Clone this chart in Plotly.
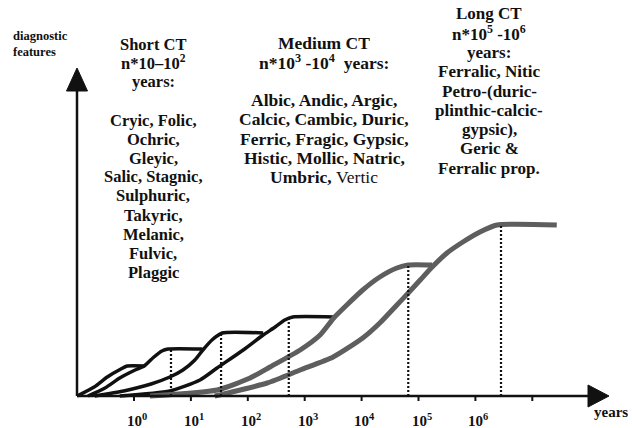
import plotly.graph_objects as go

# ---- data (x in log10(years), y = relative level of diagnostic features) ----
c1_x = [-1.00, -0.70, -0.47, -0.23, -0.12, 0.18]
c1_y = [0, 9, 19, 27, 30, 30]
c2_x = [-0.81, -0.51, -0.25, 0.02, 0.18, 0.35, 0.49, 0.60, 1.20]
c2_y = [0, 8, 18, 26, 30, 39, 45, 47, 47]
c3_x = [-0.69, -0.18, 0.30, 0.63, 0.86, 1.07, 1.21, 1.37, 1.55, 2.27]
c3_y = [0, 5, 12, 19, 26, 36, 46, 56, 63, 63]
c4_x = [-0.25, 0.63, 1.16, 1.46, 1.92, 2.27, 2.48, 2.65, 2.79, 3.51]
c4_y = [0, 5, 16, 28, 46, 61, 69, 76, 79, 79]
g5_x = [0.28, 1.46, 2.04, 2.39, 2.92, 3.27, 3.51, 3.74, 4.02, 4.32, 4.62, 4.82, 5.24]
g5_y = [0, 6, 18, 29, 46, 61, 78, 91, 106, 119, 128, 131, 131]
g6_x = [1.42, 2.34, 2.92, 3.50, 4.02, 4.32, 4.62, 4.82, 5.03, 5.24, 5.50, 5.78, 6.08, 6.38, 7.43]
g6_y = [0, 13, 26, 39, 58, 73, 91, 103, 116, 129, 143, 154, 164, 171, 171]

drop_x = [0.65, 1.53, 2.72, 4.82, 6.45]
drop_y = [47, 63, 79, 131, 171]

tick_pos = [0, 1, 2, 3, 4, 5, 6, 7]
tick_labels = ["10<sup>0</sup>", "10<sup>1</sup>", "10<sup>2</sup>", "10<sup>3</sup>",
               "10<sup>4</sup>", "10<sup>5</sup>", "10<sup>6</sup>"]

short_lines = ["Short CT", "n*10–10<sup>2</sup>", "years:", "", "Cryic, Folic,", "Ochric,",
               "Gleyic,", "Salic, Stagnic,", "Sulphuric,", "Takyric,", "Melanic,",
               "Fulvic,", "Plaggic"]
medium_lines = ["Medium CT", "n*10<sup>3</sup> -10<sup>4</sup>  years:", "",
                "Albic, Andic, Argic,", "Calcic, Cambic, Duric,", "Ferric, Fragic, Gypsic,",
                "Histic, Mollic, Natric,", "Umbric, <span style='font-weight:normal'>Vertic</span>"]
long_lines = ["Long CT", "n*10<sup>5</sup> -10<sup>6</sup>", "years:", "Ferralic, Nitic",
              "Petro-(duric-", "plinthic-calcic-", "gypsic),", "Geric &", "Ferralic prop."]

# ---- figure geometry ----
W, H = 632, 428
X0_PX, DEC_PX = 134.0, 56.9   # pixel of 10^0 and pixels per decade
BASE_PX = 396.0
xr = [(0 - X0_PX) / DEC_PX, (W - X0_PX) / DEC_PX]
yr = [BASE_PX - H, BASE_PX]

FONT = "Liberation Serif"
INK = "#111111"
GRAY = "#5e5e5e"

fig = go.Figure()

for xs, ys in [(c1_x, c1_y), (c2_x, c2_y), (c3_x, c3_y), (c4_x, c4_y)]:
    fig.add_trace(go.Scatter(x=xs, y=ys, mode="lines",
                             line=dict(color=INK, width=3.5, shape="spline", smoothing=0.6),
                             hoverinfo="skip", showlegend=False))
for xs, ys in [(g5_x, g5_y), (g6_x, g6_y)]:
    fig.add_trace(go.Scatter(x=xs, y=ys, mode="lines",
                             line=dict(color=GRAY, width=5, shape="spline", smoothing=0.6),
                             hoverinfo="skip", showlegend=False))
for dx, dy in zip(drop_x, drop_y):
    fig.add_trace(go.Scatter(x=[dx, dx], y=[0, dy], mode="lines",
                             line=dict(color=INK, width=2.2, dash="2px,2px"),
                             hoverinfo="skip", showlegend=False))

shapes = []
ax_x = xr[0] + 77 / DEC_PX          # vertical axis position
arrow_x_base = (588 - X0_PX) / DEC_PX
arrow_x_tip = (609 - X0_PX) / DEC_PX
arrow_y_base = BASE_PX - 91
arrow_y_tip = BASE_PX - 68
hw_x = 10.5 / DEC_PX
shapes.append(dict(type="line", xref="x", yref="y", x0=ax_x, x1=ax_x, y0=0, y1=arrow_y_base,
                   line=dict(color=INK, width=2.5)))
shapes.append(dict(type="path", xref="x", yref="y",
                   path=f"M {ax_x},{arrow_y_tip} L {ax_x - hw_x},{arrow_y_base} L {ax_x + hw_x},{arrow_y_base} Z",
                   fillcolor=INK, line=dict(color=INK, width=1)))
shapes.append(dict(type="line", xref="x", yref="y", x0=ax_x, x1=arrow_x_base, y0=0, y1=0,
                   line=dict(color=INK, width=2.5)))
shapes.append(dict(type="path", xref="x", yref="y",
                   path=f"M {arrow_x_tip},0 L {arrow_x_base},11 L {arrow_x_base},-11 Z",
                   fillcolor=INK, line=dict(color=INK, width=1)))
for t in tick_pos:
    shapes.append(dict(type="line", xref="x", yref="y", x0=t, x1=t, y0=0, y1=-5,
                       line=dict(color=INK, width=2)))

ann = []
for t, lab in zip(tick_pos, tick_labels):
    ann.append(dict(x=t, y=BASE_PX - 420, xref="x", yref="y", text=f"<b>{lab}</b>",
                    showarrow=False, xshift=3, font=dict(family=FONT, size=15, color=INK)))

def px(x): return x / W
def py(y): return 1 - y / H

ann.append(dict(x=px(592), y=py(412), xref="paper", yref="paper", text="<b>years</b>",
                showarrow=False, xanchor="left", yanchor="middle",
                font=dict(family=FONT, size=15, color=INK)))
ann.append(dict(x=px(11), y=py(44), xref="paper", yref="paper",
                text="<b>diagnostic<br>features</b>", showarrow=False, xanchor="left",
                yanchor="middle", align="left", font=dict(family=FONT, size=12.5, color=INK)))

def block(lines, cx, y0, step, size):
    for i, s in enumerate(lines):
        if not s:
            continue
        ann.append(dict(x=px(cx), y=py(y0 + i * step), xref="paper", yref="paper",
                        text=f"<b>{s}</b>", showarrow=False, xanchor="center", yanchor="middle",
                        font=dict(family=FONT, size=size, color=INK)))

block(short_lines, 153, 44, 19.0, 16.5)
block(medium_lines, 324, 43, 19.1, 17.5)
block(long_lines, 489, 14, 19.25, 17)

fig.update_layout(width=W, height=H, margin=dict(l=0, r=0, t=0, b=0),
                  paper_bgcolor="white", plot_bgcolor="white",
                  xaxis=dict(range=xr, visible=False, fixedrange=True),
                  yaxis=dict(range=yr, visible=False, fixedrange=True),
                  shapes=shapes, annotations=ann, showlegend=False)

fig.write_html("out.html", config={"displayModeBar": False},
               post_script="document.body.style.margin='0px';document.body.style.padding='0px';")
